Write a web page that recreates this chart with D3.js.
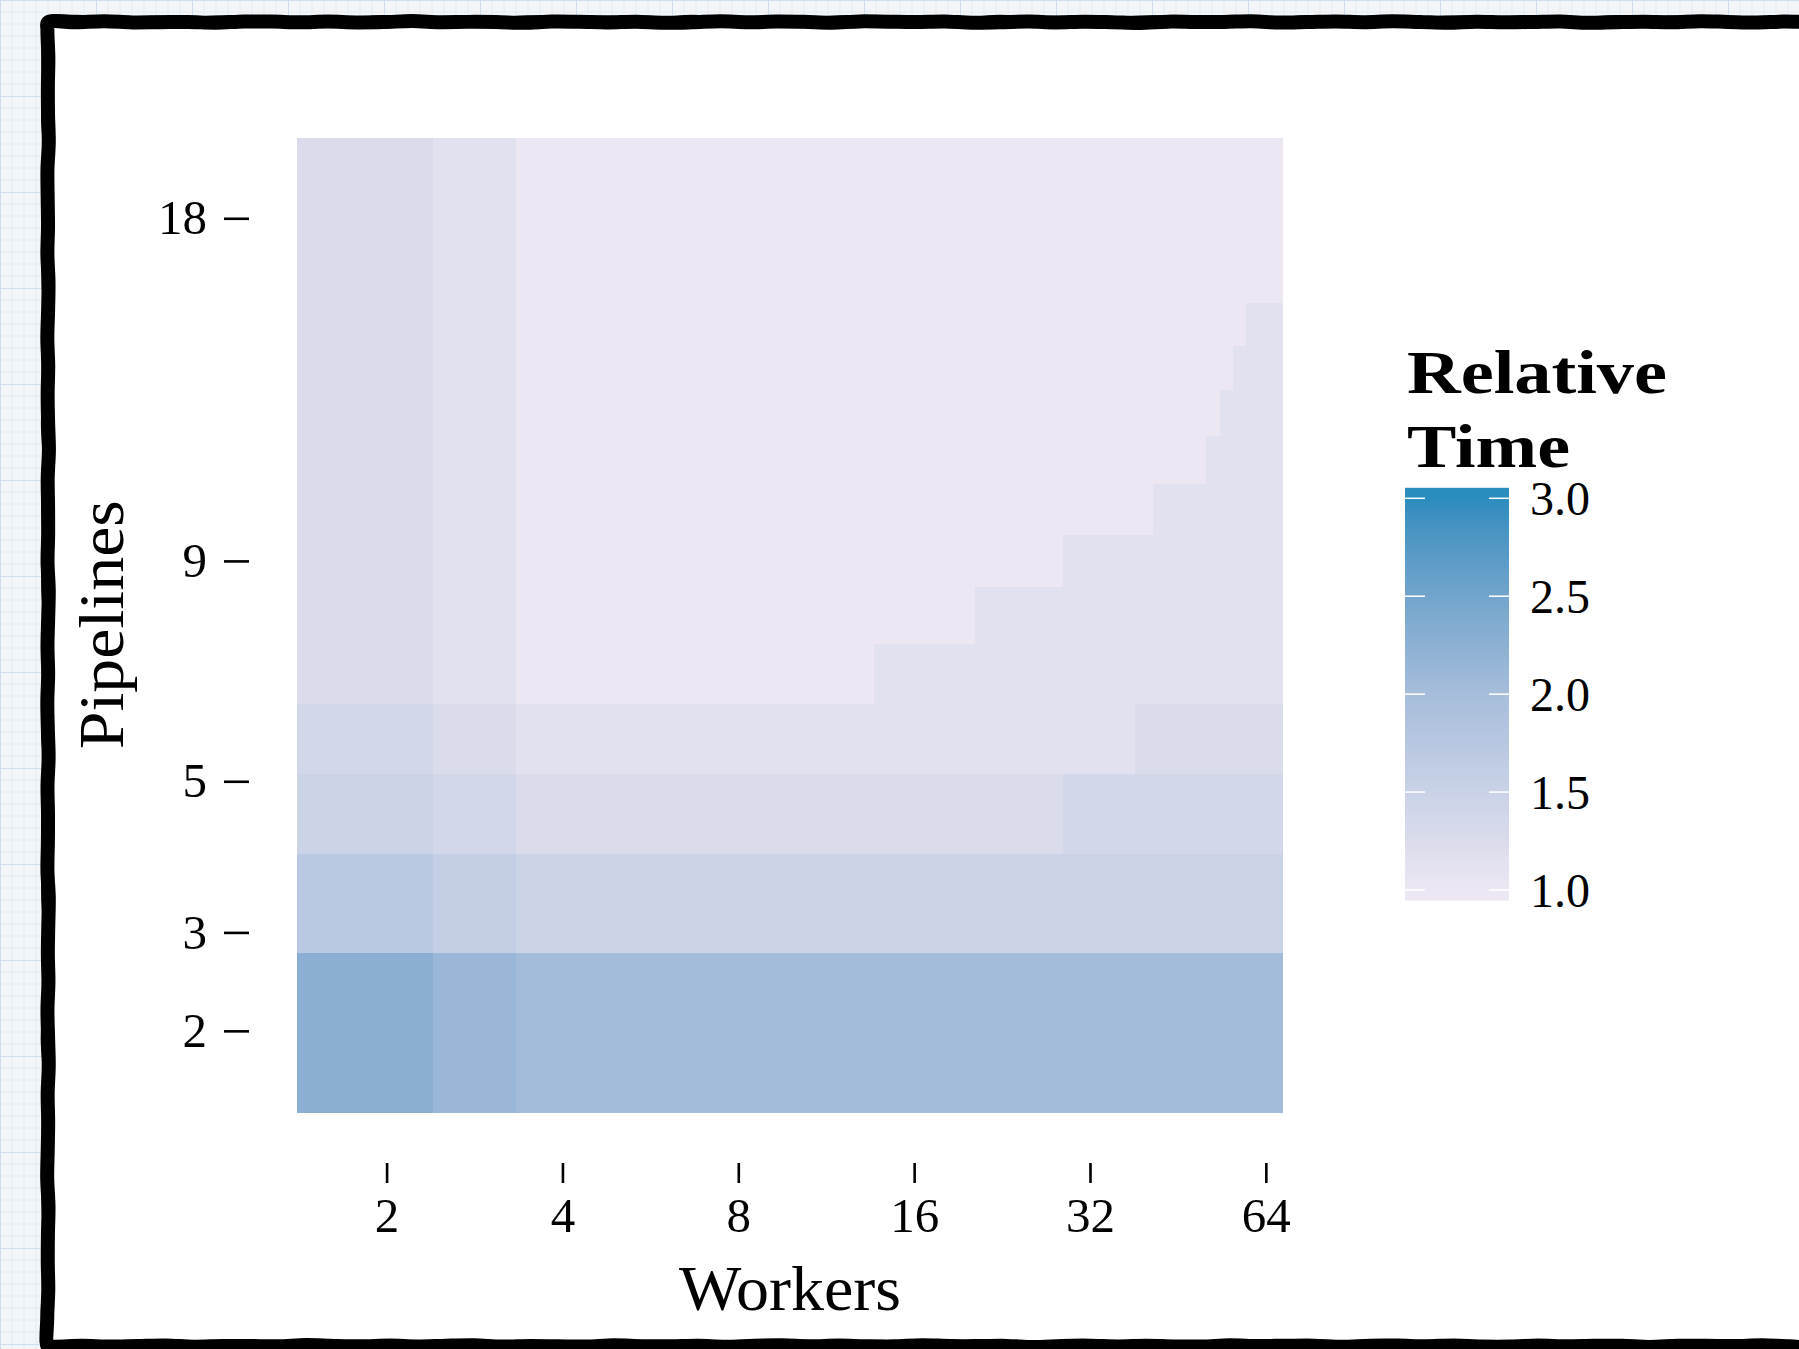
<!DOCTYPE html>
<html>
<head>
<meta charset="utf-8">
<script src="https://cdn.jsdelivr.net/npm/d3@7"></script>
<style>
  html, body { margin: 0; padding: 0; background: #f3f6f8; }
  svg { display: block; }
  text { font-family: "Liberation Serif", "DejaVu Serif", serif; fill: #000; }
</style>
</head>
<body>
<div id="chart"></div>
<script>
// ---- DATA ----
// bin edges of the raster, workers (log2 axis) and pipelines
const workerEdges = [1.406, 2.4, 3.33, 13.66, 20.3, 28.8, 38.2, 41.1, 50.6, 53.4, 56.3, 59.2, 68.4];
const pipelineEdges = [1.345, 2.774, 3.973, 5.12, 6.26, 7.35, 8.46, 9.58, 10.73, 11.88, 13.07, 14.26, 15.46, 20.64];

// relative time, one row per pipeline bin (bottom -> top), one value per worker bin
const relTime = [
  [2.28, 2.12, 2.03, 2.03, 2.03, 2.03, 2.03, 2.03, 2.03, 2.03, 2.03, 2.03],
  [1.72, 1.58, 1.48, 1.48, 1.48, 1.48, 1.48, 1.48, 1.48, 1.48, 1.48, 1.48],
  [1.48, 1.37, 1.26, 1.26, 1.26, 1.37, 1.37, 1.37, 1.37, 1.37, 1.37, 1.37],
  [1.37, 1.26, 1.14, 1.14, 1.14, 1.14, 1.26, 1.26, 1.26, 1.26, 1.26, 1.26],
  [1.26, 1.14, 1.00, 1.14, 1.14, 1.14, 1.14, 1.14, 1.14, 1.14, 1.14, 1.14],
  [1.26, 1.14, 1.00, 1.00, 1.14, 1.14, 1.14, 1.14, 1.14, 1.14, 1.14, 1.14],
  [1.26, 1.14, 1.00, 1.00, 1.00, 1.14, 1.14, 1.14, 1.14, 1.14, 1.14, 1.14],
  [1.26, 1.14, 1.00, 1.00, 1.00, 1.00, 1.00, 1.14, 1.14, 1.14, 1.14, 1.14],
  [1.26, 1.14, 1.00, 1.00, 1.00, 1.00, 1.00, 1.00, 1.14, 1.14, 1.14, 1.14],
  [1.26, 1.14, 1.00, 1.00, 1.00, 1.00, 1.00, 1.00, 1.00, 1.14, 1.14, 1.14],
  [1.26, 1.14, 1.00, 1.00, 1.00, 1.00, 1.00, 1.00, 1.00, 1.00, 1.14, 1.14],
  [1.26, 1.14, 1.00, 1.00, 1.00, 1.00, 1.00, 1.00, 1.00, 1.00, 1.00, 1.14],
  [1.26, 1.14, 1.00, 1.00, 1.00, 1.00, 1.00, 1.00, 1.00, 1.00, 1.00, 1.00]
];

const workerTicks = [2, 4, 8, 16, 32, 64];
const pipelineTicks = [2, 3, 5, 9, 18];
const legendTicks = [1.0, 1.5, 2.0, 2.5, 3.0];
const legendLimits = [1, 3];
const paletteColors = ["#ece7f2", "#a6bddb", "#2b8cbe"];

/** CONSTANTS */
const width = 1799,
  height = 1349,
  panel = { left: 297.2, right: 1282.7, top: 137.7, bottom: 1111.9 };

/** SCALES */
const xScale = d3.scaleLog().base(2)
  .domain([workerEdges[0], workerEdges[workerEdges.length - 1]])
  .range([panel.left, panel.right]);

// pipelines axis is compressed like a power transform
const yScale = d3.scalePow().exponent(0.43)
  .domain([pipelineEdges[0], pipelineEdges[pipelineEdges.length - 1]])
  .range([panel.bottom, panel.top]);

const color = d3.scaleLinear()
  .domain([1, 2, 3])
  .range(paletteColors)
  .interpolate(d3.interpolateLab);

/** DRAWING ELEMENTS */
const svg = d3.select("#chart")
  .append("svg")
  .attr("width", width)
  .attr("height", height);

const defs = svg.append("defs");

// graph paper behind the card
const pat = defs.append("pattern")
  .attr("id", "paper")
  .attr("patternUnits", "userSpaceOnUse")
  .attr("width", 96).attr("height", 96);
pat.append("rect").attr("width", 96).attr("height", 96).attr("fill", "#f3f6f8");
d3.range(0, 96, 12).forEach(v => {
  pat.append("line").attr("x1", v).attr("x2", v).attr("y1", 0).attr("y2", 96)
    .attr("stroke", "#e3ebf1").attr("stroke-width", 1);
  pat.append("line").attr("y1", v).attr("y2", v).attr("x1", 0).attr("x2", 96)
    .attr("stroke", "#e3ebf1").attr("stroke-width", 1);
});
pat.append("line").attr("x1", 0).attr("x2", 0).attr("y1", 0).attr("y2", 96)
  .attr("stroke", "#cfdeea").attr("stroke-width", 2);
pat.append("line").attr("y1", 0).attr("y2", 0).attr("x1", 0).attr("x2", 96)
  .attr("stroke", "#cfdeea").attr("stroke-width", 2);

svg.append("rect").attr("width", width).attr("height", height).attr("fill", "url(#paper)");

// hand drawn frame: jitter made from sines so it is the same on every run
function wobblyFrame(x0, y0, x1, y1, amp, phase) {
  const pts = [];
  const step = 28;
  const wob = i => amp * (Math.sin(i * 2.3 + phase) * 0.55 +
    Math.sin(i * 5.17 + phase * 3) * 0.3 + Math.sin(i * 0.37 + phase * 2) * 0.15);
  let k = 0;
  for (let x = x0; x < x1; x += step) pts.push([x, y0 + wob(k++)]);
  for (let y = y0; y < y1; y += step) pts.push([x1 + wob(k++), y]);
  for (let x = x1; x > x0; x -= step) pts.push([x, y1 + wob(k++)]);
  for (let y = y1; y > y0; y -= step) pts.push([x0 + wob(k++), y]);
  return d3.line().curve(d3.curveCatmullRomClosed.alpha(0.5))(pts);
}

svg.append("path")
  .attr("d", wobblyFrame(48, 22, 1818, 1346, 1.0, 0.3))
  .attr("fill", "#ffffff")
  .attr("stroke", "#000")
  .attr("stroke-width", 14)
  .attr("stroke-linejoin", "round");
svg.append("path")
  .attr("d", wobblyFrame(47.5, 21.5, 1818, 1347, 1.4, 1.9))
  .attr("fill", "none")
  .attr("stroke", "#000")
  .attr("stroke-width", 11)
  .attr("stroke-linejoin", "round");

// heatmap cells
const cells = [];
relTime.forEach((row, r) => row.forEach((v, c) => cells.push({
  x0: workerEdges[c], x1: workerEdges[c + 1],
  y0: pipelineEdges[r], y1: pipelineEdges[r + 1], v
})));

svg.append("g")
  .selectAll("rect")
  .data(cells)
  .join("rect")
  .attr("x", d => xScale(d.x0))
  .attr("width", d => xScale(d.x1) - xScale(d.x0) + 0.6)
  .attr("y", d => yScale(d.y1))
  .attr("height", d => yScale(d.y0) - yScale(d.y1) + 0.6)
  .attr("fill", d => color(d.v))
  .attr("shape-rendering", "crispEdges");

// axes (detached from the panel like the original)
const xAxis = d3.axisBottom(xScale)
  .tickValues(workerTicks)
  .tickFormat(d3.format("d"))
  .tickSize(20)
  .tickPadding(14);

const gx = svg.append("g")
  .attr("transform", `translate(0, 1163)`)
  .call(xAxis);

const yAxis = d3.axisLeft(yScale)
  .tickValues(pipelineTicks)
  .tickFormat(d3.format("d"))
  .tickSize(25)
  .tickPadding(17);

const gy = svg.append("g")
  .attr("transform", `translate(249, 0)`)
  .call(yAxis);

[gx, gy].forEach(g => {
  g.select(".domain").remove();
  g.selectAll(".tick line").attr("stroke", "#000").attr("stroke-width", 2.6);
  g.selectAll(".tick text")
    .attr("font-family", "Liberation Serif, serif")
    .attr("font-size", 49)
    .attr("fill", "#000");
});

// axis titles
svg.append("text")
  .attr("x", (panel.left + panel.right) / 2)
  .attr("y", 1310)
  .attr("text-anchor", "middle")
  .attr("font-size", 64)
  .attr("textLength", 222).attr("lengthAdjust", "spacingAndGlyphs")
  .text("Workers");

svg.append("text")
  .attr("transform", `translate(123, ${(panel.top + panel.bottom) / 2}) rotate(-90)`)
  .attr("text-anchor", "middle")
  .attr("font-size", 64)
  .attr("textLength", 249).attr("lengthAdjust", "spacingAndGlyphs")
  .text("Pipelines");

/** LEGEND */
const legend = { x: 1405, w: 104, halfBin: 10.5 };
const legendScale = d3.scaleLinear().domain(legendLimits).range([890, 498.3]);

const grad = defs.append("linearGradient")
  .attr("id", "legendGrad")
  .attr("gradientUnits", "userSpaceOnUse")
  .attr("x1", 0).attr("x2", 0)
  .attr("y1", legendScale(legendLimits[0]))
  .attr("y2", legendScale(legendLimits[1]));
d3.range(0, 41).forEach(i => {
  const t = i / 40;
  grad.append("stop")
    .attr("offset", t)
    .attr("stop-color", color(legendLimits[0] + t * (legendLimits[1] - legendLimits[0])));
});

const barTop = legendScale(legendLimits[1]) - legend.halfBin,
  barBottom = legendScale(legendLimits[0]) + legend.halfBin;

svg.append("rect")
  .attr("x", legend.x)
  .attr("y", barTop)
  .attr("width", legend.w)
  .attr("height", barBottom - barTop)
  .attr("fill", "url(#legendGrad)");

const lt = svg.append("g").selectAll("g").data(legendTicks).join("g");
lt.append("line")
  .attr("x1", legend.x).attr("x2", legend.x + 20)
  .attr("y1", d => legendScale(d)).attr("y2", d => legendScale(d))
  .attr("stroke", "#fff").attr("stroke-width", 1.5);
lt.append("line")
  .attr("x1", legend.x + legend.w - 20).attr("x2", legend.x + legend.w)
  .attr("y1", d => legendScale(d)).attr("y2", d => legendScale(d))
  .attr("stroke", "#fff").attr("stroke-width", 1.5);
lt.append("text")
  .attr("x", 1530)
  .attr("y", d => legendScale(d))
  .attr("dy", "0.35em")
  .attr("font-size", 48)
  .text(d => d3.format(".1f")(d));

svg.append("text")
  .attr("x", 1407).attr("y", 393)
  .attr("font-size", 61).attr("font-weight", "bold")
  .attr("textLength", 260).attr("lengthAdjust", "spacingAndGlyphs")
  .text("Relative");
svg.append("text")
  .attr("x", 1407).attr("y", 467)
  .attr("font-size", 61).attr("font-weight", "bold")
  .attr("textLength", 163).attr("lengthAdjust", "spacingAndGlyphs")
  .text("Time");
</script>
</body>
</html>
